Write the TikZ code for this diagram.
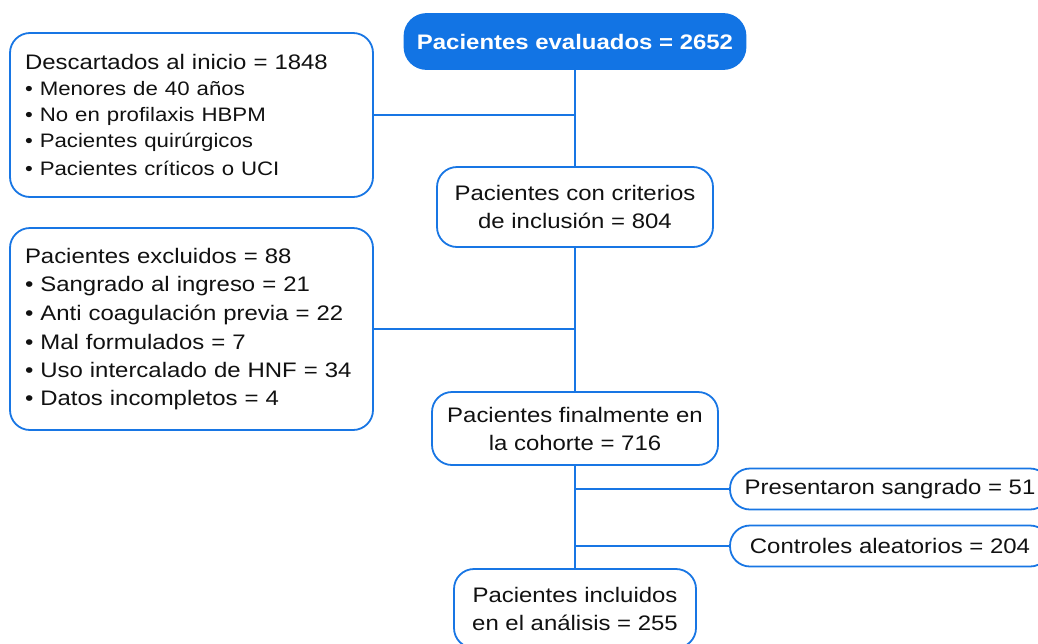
\documentclass[tikz,border=0pt]{standalone}
\usepackage{fontspec}
\setmainfont{Liberation Sans}[FakeStretch=1.14]
\definecolor{fcblue}{RGB}{24,118,228}
\definecolor{fcfill}{RGB}{18,116,228}
\definecolor{fctext}{RGB}{17,17,17}
\tikzset{
  box/.style={draw=fcblue, line width=1.8pt, rounded corners=20pt, fill=white,
    text=fctext, inner sep=0pt, align=center,
    font=\fontsize{21}{28}\selectfont},
  topbox/.style={box, fill=fcfill, draw=fcfill, text=white, rounded corners=22pt,
    font=\fontsize{21}{28}\selectfont\bfseries},
  lbox/.style={box, align=left, text width=333pt, inner xsep=15pt, minimum width=363pt},
  link/.style={draw=fcblue, line width=1.8pt}
}
\begin{document}
\begin{tikzpicture}[x=1pt,y=-1pt]
\useasboundingbox (0,0) rectangle (1038,643);
\node[topbox, minimum width=341pt, minimum height=55pt] (top) at (575,41.5) {Pacientes evaluados = 2652};
\node[lbox, minimum height=164pt] (d1) at (191.5,115)
 {\fontsize{21}{26}\selectfont Descartados al inicio = 1848\\
  \fontsize{19.5}{26}\selectfont • Menores de 40 años\\
  • No en profilaxis HBPM\\
  • Pacientes quirúrgicos\\
  • Pacientes críticos o UCI};
\node[box, minimum width=276pt, minimum height=80pt] (c1) at (575,207)
 {Pacientes con criterios\\ de inclusión = 804};
\node[lbox, minimum height=202pt] (d2) at (191.5,329)
 {\fontsize{21}{28.6}\selectfont Pacientes excluidos = 88\\
  • Sangrado al ingreso = 21\\
  • Anti coagulación previa = 22\\
  • Mal formulados = 7\\
  • Uso intercalado de HNF = 34\\
  • Datos incompletos = 4};
\node[box, minimum width=286pt, minimum height=73pt] (c2) at (575,428.5)
 {Pacientes finalmente en\\ la cohorte = 716};
\node[box, minimum width=320pt, minimum height=41pt] (r1) at (890,489) {Presentaron sangrado = 51};
\node[box, minimum width=320pt, minimum height=41pt] (r2) at (890,546) {Controles aleatorios = 204};
\node[box, minimum width=242pt, minimum height=79pt] (c3) at (575,608.5)
 {Pacientes incluidos\\ en el análisis = 255};
\path[link] (top.south) -- (c1.north);
\path[link] (c1.south) -- (c2.north);
\path[link] (c2.south) -- (c3.north);
\path[link] (d1.east) -- (d1.east -| top.south);
\path[link] (d2.east) -- (d2.east -| c1.south);
\path[link] (r1.west) -- (r1.west -| c2.south);
\path[link] (r2.west) -- (r2.west -| c2.south);
\end{tikzpicture}
\end{document}
